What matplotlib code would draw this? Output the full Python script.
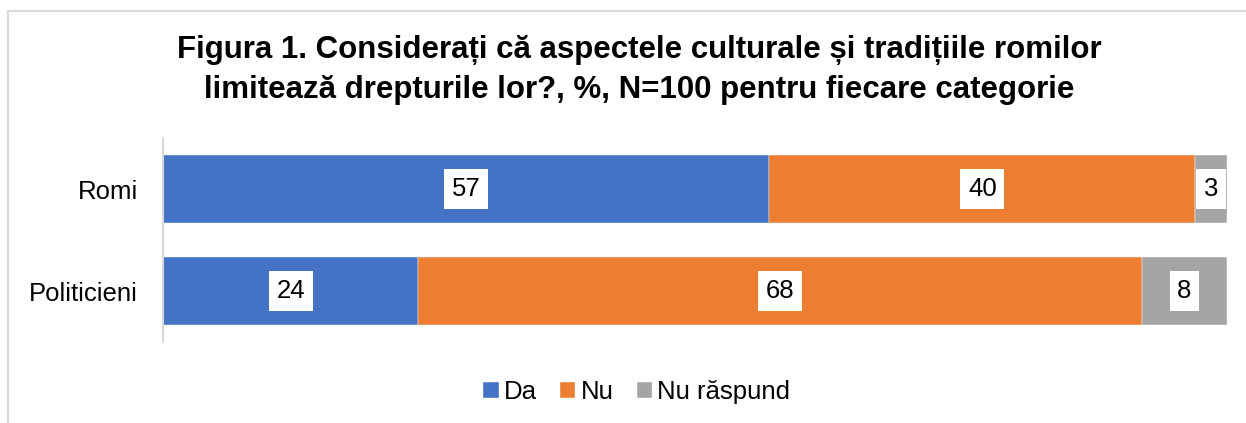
import matplotlib
matplotlib.use('Agg')
import matplotlib.pyplot as plt
from matplotlib.patches import Rectangle

plt.rcParams['font.family'] = ['Liberation Sans', 'DejaVu Sans']

# date
categorii = ['Romi', 'Politicieni']
serii = ['Da', 'Nu', 'Nu răspund']
da = [57, 24]
nu = [40, 68]
nu_raspund = [3, 8]
culori = ['#4472C4', '#ED7D31', '#A5A5A5']

fig = plt.figure(figsize=(12.46, 4.23), dpi=100)
ax = fig.add_axes([163 / 1246, 1 - 342 / 423, 1064 / 1246, 204 / 423])

# chenar gri (doar sus si stanga se vad)
fig.patches.append(Rectangle((8 / 1246, -0.05), 1.1, 1.05 - 11 / 423, transform=fig.transFigure,
                             fill=False, edgecolor='#D9D9D9', linewidth=1.5))

y = list(range(len(categorii)))
stanga = [0] * len(categorii)
for nume, valori, culoare in zip(serii, [da, nu, nu_raspund], culori):
    bare = ax.barh(y, valori, left=stanga, height=0.667, color=culoare, label=nume,
                   edgecolor='white', linewidth=0.3)
    ax.bar_label(bare, label_type='center', fontsize=18.5,
                 bbox=dict(boxstyle='square,pad=0.3', facecolor='white', edgecolor='none'))
    stanga = [s + v for s, v in zip(stanga, valori)]

ax.set_xlim(0, 100)
ax.set_ylim(1.5, -0.5)
ax.set_yticks(y)
ax.set_yticklabels(categorii, fontsize=18.5)
ax.tick_params(axis='y', length=0, pad=18)
ax.set_xticks([])
for s in ['top', 'right', 'bottom']:
    ax.spines[s].set_visible(False)
ax.spines['left'].set_color('#D9D9D9')
ax.spines['left'].set_linewidth(1.5)

fig.text(0.513, 1 - 70 / 423,
         'Figura 1. Considerați că aspectele culturale și tradițiile romilor\n'
         'limitează drepturile lor?, %, N=100 pentru fiecare categorie',
         ha='center', va='center', fontsize=22.5, fontweight='bold', linespacing=1.45)

fig.legend(loc='center', bbox_to_anchor=(0.511, 1 - 392 / 423), ncol=3, frameon=False,
           fontsize=18.5, handlelength=0.6, handleheight=0.6, handletextpad=0.2,
           columnspacing=0.9)

fig.savefig('out.png', dpi=100)
